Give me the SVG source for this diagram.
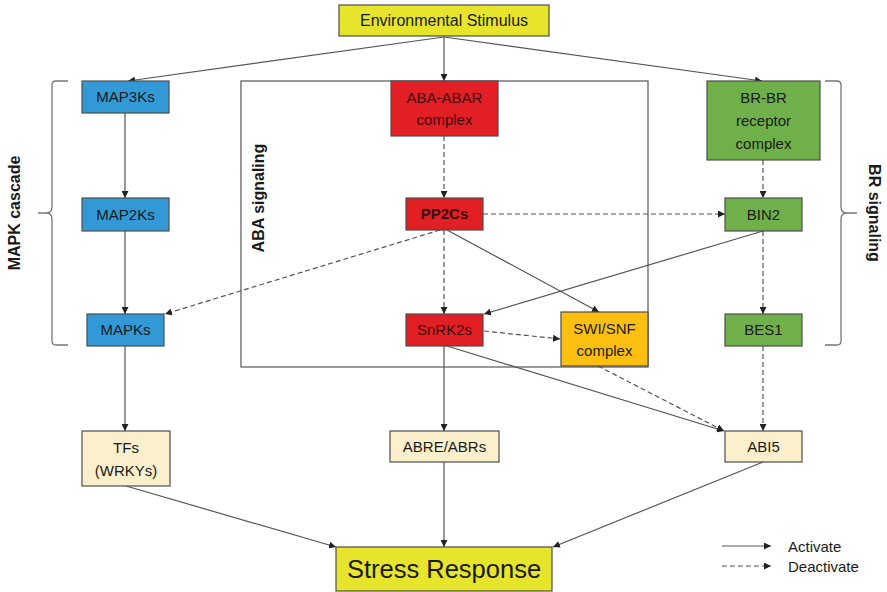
<svg xmlns="http://www.w3.org/2000/svg" width="887" height="592" viewBox="0 0 887 592">
<defs>
<marker id="ah" viewBox="0 0 10 10" refX="10" refY="5" markerWidth="7" markerHeight="7" markerUnits="userSpaceOnUse" orient="auto">
<path d="M0,0 L10,5 L0,10 z" fill="#222"/>
</marker>
</defs>
<style>
text{font-family:"Liberation Sans",Arial,sans-serif;font-size:15px;fill:#1a1a1a;text-anchor:middle}
.n{stroke:#4d4d4d;stroke-width:1.2}
.blue{fill:#3399d6}
.red{fill:#e31f26}
.rt{fill:#3a0a0a}
.green{fill:#6fb04a}
.orange{fill:#fdbf10}
.beige{fill:#fcefcc}
.yellow{fill:#e6e52c}
.c line{stroke:#555;stroke-width:1.2;fill:none;marker-end:url(#ah)}
.c .d{stroke-dasharray:5,3}
.br{fill:none;stroke:#777;stroke-width:1.3}
.lab{font-weight:bold;font-size:16px}
.big{font-size:25.5px}
.env{font-size:16px}
.leg{font-size:15px;text-anchor:start}
</style>
<rect width="887" height="592" fill="#fff"/>
<rect x="241" y="81" width="407" height="286" fill="none" stroke="#555" stroke-width="1.2"/>
<path class="br" d="M68,81 H56 Q52,81 52,85 V207 Q52,213 46,213 H38 M46,213 Q52,213 52,219 V341 Q52,345 56,345 H68"/>
<path class="br" d="M825,81 H837 Q841,81 841,85 V207 Q841,213 847,213 H857 M847,213 Q841,213 841,219 V341 Q841,345 837,345 H825"/>
<text class="lab" transform="translate(20,213) rotate(-90)">MAPK cascade</text>
<text class="lab" transform="translate(869,213) rotate(90)">BR signaling</text>
<text class="lab" transform="translate(264,198) rotate(-90)">ABA signaling</text>
<g class="c" id="connectors">
<line x1="444" y1="37" x2="128" y2="81"/>
<line x1="444" y1="37" x2="444" y2="81"/>
<line x1="444" y1="37" x2="762" y2="81"/>
<line x1="125" y1="113" x2="125" y2="198"/>
<line x1="125" y1="231" x2="125" y2="314"/>
<line x1="125" y1="346" x2="125" y2="431"/>
<line class="d" x1="444" y1="136" x2="444" y2="198"/>
<line class="d" x1="444" y1="230" x2="444" y2="314"/>
<line class="d" x1="483" y1="214" x2="725" y2="214"/>
<line class="d" x1="440" y1="230" x2="165" y2="314"/>
<line x1="447" y1="230" x2="599" y2="312"/>
<line x1="763" y1="231" x2="484" y2="314"/>
<line class="d" x1="484" y1="331" x2="560" y2="339"/>
<line x1="447" y1="346" x2="724" y2="431"/>
<line class="d" x1="598" y1="366" x2="724" y2="431"/>
<line class="d" x1="763" y1="160" x2="763" y2="198"/>
<line class="d" x1="763" y1="231" x2="763" y2="314"/>
<line class="d" x1="763" y1="346" x2="763" y2="431"/>
<line x1="444" y1="346" x2="444" y2="431"/>
<line x1="126" y1="486" x2="336" y2="547"/>
<line x1="444" y1="462" x2="444" y2="547"/>
<line x1="763" y1="462" x2="553" y2="547"/>
<line x1="722" y1="546" x2="771" y2="546"/>
<line class="d" x1="722" y1="566" x2="771" y2="566"/>
</g>
<g id="env"><rect class="n yellow" x="339" y="5" width="210" height="31"/><text class="env" x="444" y="26">Environmental Stimulus</text></g>
<g id="map3ks"><rect class="n blue" x="82" y="81" width="87" height="32"/><text x="125.5" y="102">MAP3Ks</text></g>
<g id="map2ks"><rect class="n blue" x="82" y="198" width="87" height="33"/><text x="125.5" y="220">MAP2Ks</text></g>
<g id="mapks"><rect class="n blue" x="87" y="314" width="77" height="32"/><text x="125.5" y="335">MAPKs</text></g>
<g id="aba"><rect class="n red" x="391" y="81" width="107" height="55"/><text class="rt" x="444.5" y="103">ABA-ABAR</text><text class="rt" x="444.5" y="125">complex</text></g>
<g id="pp2cs"><rect class="n red" x="406" y="198" width="77" height="32"/><text class="rt" x="444.5" y="219" font-weight="bold">PP2Cs</text></g>
<g id="snrk2s"><rect class="n red" x="406" y="314" width="77" height="32"/><text class="rt" x="444.5" y="335">SnRK2s</text></g>
<g id="swisnf"><rect class="n orange" x="561" y="312" width="87" height="54"/><text x="604.5" y="334">SWI/SNF</text><text x="604.5" y="356">complex</text></g>
<g id="brbr"><rect class="n green" x="707" y="81" width="113" height="79"/><text x="763.5" y="103">BR-BR</text><text x="763.5" y="126">receptor</text><text x="763.5" y="149">complex</text></g>
<g id="bin2"><rect class="n green" x="725" y="198" width="77" height="33"/><text x="763.5" y="220">BIN2</text></g>
<g id="bes1"><rect class="n green" x="725" y="314" width="77" height="32"/><text x="763.5" y="335">BES1</text></g>
<g id="tfs"><rect class="n beige" x="82" y="431" width="88" height="55"/><text x="126" y="453">TFs</text><text x="126" y="476">(WRKYs)</text></g>
<g id="abre"><rect class="n beige" x="390" y="431" width="109" height="31"/><text x="444.5" y="452">ABRE/ABRs</text></g>
<g id="abi5"><rect class="n beige" x="725" y="431" width="77" height="31"/><text x="763.5" y="452">ABI5</text></g>
<g id="stress"><rect class="n yellow" x="336" y="547" width="216" height="44"/><text class="big" x="444" y="578">Stress Response</text></g>
<g id="legend"><text class="leg" x="788" y="552">Activate</text><text class="leg" x="788" y="572">Deactivate</text></g>
</svg>
